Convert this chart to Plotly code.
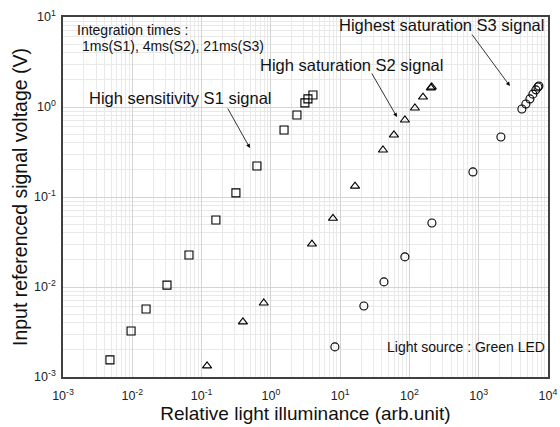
import plotly.graph_objects as go

# S1: high sensitivity (squares)
s1_x = [0.00476, 0.0096, 0.0158, 0.0317, 0.0658, 0.161, 0.313, 0.63, 1.55, 2.38, 3.1, 3.43, 4.05]
s1_y = [0.00155, 0.00325, 0.0057, 0.0105, 0.0227, 0.0555, 0.111, 0.221, 0.555, 0.815, 1.11, 1.23, 1.36]

# S2: high saturation (triangles)
s2_x = [0.12, 0.395, 0.79, 3.92, 7.87, 16.4, 41.5, 59.7, 86, 120, 157, 204, 210]
s2_y = [0.00133, 0.0041, 0.00664, 0.030, 0.058, 0.132, 0.333, 0.489, 0.717, 0.975, 1.29, 1.63, 1.67]

# S3: highest saturation (circles)
s3_x = [8.4, 22, 42.9, 86, 211, 825, 2090, 4200, 4800, 5480, 6050, 6690, 7150, 7390]
s3_y = [0.00216, 0.00615, 0.0114, 0.0216, 0.0514, 0.19, 0.464, 0.95, 1.08, 1.23, 1.39, 1.55, 1.67, 1.71]

x_tickvals = [1e-3, 1e-2, 1e-1, 1e0, 1e1, 1e2, 1e3, 1e4]
x_ticktext = ["10<sup>-3</sup>", "10<sup>-2</sup>", "10<sup>-1</sup>", "10<sup>0</sup>",
              "10<sup>1</sup>", "10<sup>2</sup>", "10<sup>3</sup>", "10<sup>4</sup>"]
y_tickvals = [1e-3, 1e-2, 1e-1, 1e0, 1e1]
y_ticktext = ["10<sup>-3</sup>", "10<sup>-2</sup>", "10<sup>-1</sup>", "10<sup>0</sup>", "10<sup>1</sup>"]

FONT = "Liberation Sans, Arial, sans-serif"

# plot area in window pixels
PL, PR, PT, PB = 63, 548, 17, 377
W, H = 560, 427


def px_to_paper(px, py):
    return (px - PL) / (PR - PL), (PB - py) / (PB - PT)


fig = go.Figure()
fig.add_trace(go.Scatter(x=s1_x, y=s1_y, mode="markers", name="S1",
                         marker=dict(symbol="square-open", size=8, color="black", line=dict(width=1.1))))
fig.add_trace(go.Scatter(x=s2_x, y=s2_y, mode="markers", name="S2",
                         marker=dict(symbol="triangle-up-open", size=8, color="black", line=dict(width=1.1))))
fig.add_trace(go.Scatter(x=s3_x, y=s3_y, mode="markers", name="S3",
                         marker=dict(symbol="circle-open", size=8, color="black", line=dict(width=1.1))))

axis_common = dict(
    type="log", showline=True, mirror=True, linecolor="#404040", linewidth=1.5,
    showgrid=True, gridcolor="#d4d4d4", gridwidth=1, zeroline=False, ticks="",
    automargin=False,
    tickfont=dict(family=FONT, size=12.5, color="#222"),
    minor=dict(showgrid=True, gridcolor="#e9e9e9", gridwidth=1, dtick="D1"),
)

fig.update_xaxes(range=[-3, 4], tickvals=x_tickvals, ticktext=x_ticktext,
                 ticklabelstandoff=6,
                 title=dict(text="Relative light illuminance (arb.unit)",
                            font=dict(family=FONT, size=19, color="#111"), standoff=5),
                 **axis_common)
fig.update_yaxes(range=[-3, 1], tickvals=y_tickvals, ticktext=y_ticktext,
                 ticklabelstandoff=3,
                 title=dict(text="Input referenced signal voltage (V)",
                            font=dict(family=FONT, size=19.5, color="#111"), standoff=1),
                 **axis_common)

arrows = [
    # arrow head in log coords, tail by pixel offset
    dict(x=-0.302, y=-0.456, ax=-23, ay=-41),
    dict(x=1.820, y=-0.111, ax=-26, ay=-45),
    dict(x=3.450, y=0.233, ax=-39, ay=-53),
]
for a in arrows:
    fig.add_annotation(x=a["x"], y=a["y"], ax=a["ax"], ay=a["ay"], xref="x", yref="y",
                       showarrow=True, arrowhead=2, arrowsize=1, arrowwidth=0.8,
                       arrowcolor="black", text="")

labels = [
    ("High sensitivity S1 signal", 87, 98, "left", 16.5),
    ("High saturation S2 signal", 258, 65, "left", 16.5),
    ("Highest saturation S3 signal", 546, 25, "right", 16.5),
    ("Integration times :", 75, 30, "left", 14),
    ("1ms(S1), 4ms(S2), 21ms(S3)", 80, 46, "left", 14),
    ("Light source : Green LED", 547, 347, "right", 14),
]
for text, px, py, anchor, size in labels:
    xp, yp = px_to_paper(px, py)
    fig.add_annotation(x=xp, y=yp, xref="paper", yref="paper",
                       text=text, showarrow=False, xanchor=anchor, yanchor="middle",
                       font=dict(family=FONT, size=size, color="#111"))

fig.update_layout(
    width=W, height=H,
    margin=dict(l=PL, r=W - PR, t=PT, b=H - PB),
    paper_bgcolor="white", plot_bgcolor="white",
    showlegend=False,
    font=dict(family=FONT),
)

fig.write_html("out.html", config={"displayModeBar": False},
               post_script="document.body.style.margin='0';document.body.style.overflow='hidden';")
